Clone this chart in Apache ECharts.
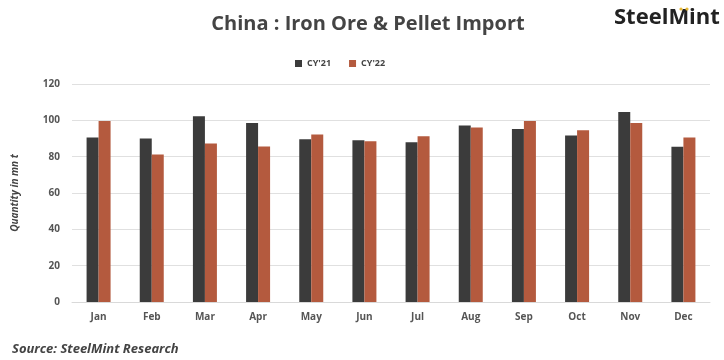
<!DOCTYPE html>
<html>
<head>
<meta charset="utf-8">
<script src="https://cdn.jsdelivr.net/npm/echarts@6/dist/echarts.min.js"></script>
<style>html,body{margin:0;padding:0;background:#fff;}#c{width:724px;height:360px;}</style>
</head>
<body>
<div id="c"></div>
<script>
const categories = ['Jan','Feb','Mar','Apr','May','Jun','Jul','Aug','Sep','Oct','Nov','Dec'];
const cy21 = [90.5, 90.0, 102.2, 98.5, 89.6, 89.0, 87.9, 97.1, 95.2, 91.6, 104.6, 85.4];
const cy22 = [99.6, 81.2, 87.2, 85.6, 92.2, 88.5, 91.2, 96.0, 99.6, 94.5, 98.5, 90.5];
const seriesNames = ["CY'21", "CY'22"];

const chart = echarts.init(document.getElementById('c'));
chart.setOption({
  backgroundColor: '#fff',
  animation: false,
  title: {
    text: 'China : Iron Ore & Pellet Import',
    left: 363, top: 9, textAlign: 'center',
    textStyle: { fontFamily: 'Open Sans', fontWeight: 'bold', fontSize: 20, color: '#444' }
  },
  legend: {
    data: seriesNames,
    left: 290, top: 54, itemWidth: 7, itemHeight: 7, itemGap: 18,
    icon: 'rect',
    textStyle: { fontFamily: 'Open Sans', fontWeight: 'bold', fontSize: 9, color: '#444' }
  },
  grid: { left: 72, right: 14, top: 84, bottom: 58, containLabel: false },
  xAxis: {
    type: 'category', data: categories,
    axisLine: { lineStyle: { color: '#d9d9d9' } },
    axisTick: { show: false },
    axisLabel: { fontFamily: 'Open Sans', fontWeight: 'bold', fontSize: 10, color: '#555', margin: 10 }
  },
  yAxis: {
    type: 'value', min: 0, max: 120, interval: 20,
    name: 'Quantity in mn t', nameLocation: 'middle', nameGap: 52, nameRotate: 90,
    nameTextStyle: { fontFamily: 'Open Sans', fontWeight: 'bold', fontStyle: 'italic', fontSize: 10, color: '#444' },
    axisLine: { show: false }, axisTick: { show: false },
    axisLabel: { fontFamily: 'Open Sans', fontWeight: 'bold', fontSize: 10, color: '#555', margin: 12 },
    splitLine: { lineStyle: { color: '#e0e0e0' } }
  },
  series: [
    { name: seriesNames[0], type: 'bar', data: cy21, barWidth: 12, barGap: '0%', itemStyle: { color: '#3b3b3b' } },
    { name: seriesNames[1], type: 'bar', data: cy22, barWidth: 12, barGap: '0%', itemStyle: { color: '#b45a3e' } }
  ],
  graphic: [
    { type: 'text', left: 12, top: 343, style: { text: 'Source: SteelMint Research', fontFamily: 'Open Sans', fontWeight: 'bold', fontStyle: 'italic', fontSize: 13, fill: '#444' } },
    { type: 'text', left: 614, top: 7, style: { text: 'SteelMint', fontFamily: 'Open Sans', fontWeight: 'bold', fontSize: 22, fill: '#222' } },
    { type: 'circle', shape: { cx: 681, cy: 9, r: 1.6 }, style: { fill: '#e8b935' } },
    { type: 'circle', shape: { cx: 687, cy: 9, r: 1.6 }, style: { fill: '#e8b935' } }
  ]
});
</script>
</body>
</html>
